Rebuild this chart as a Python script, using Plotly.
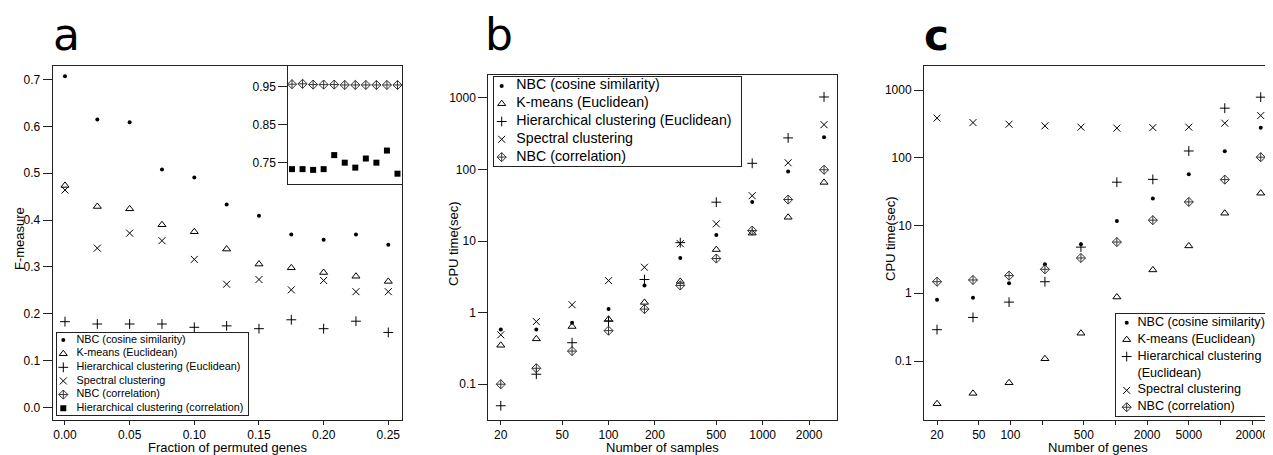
import plotly.graph_objects as go

W, H = 1273, 455
OFF = 8  # page body margin: figure origin sits 8px right/down of page origin
FONT = "Liberation Sans, Arial, Helvetica, sans-serif"

# ---------------- data ----------------
# panel a : F-measure vs fraction of permuted genes
frac_permuted = [0.0, 0.025, 0.05, 0.075, 0.1, 0.125, 0.15, 0.175, 0.2, 0.225, 0.25]
a_nbc_cos = [0.707, 0.615, 0.609, 0.508, 0.491, 0.433, 0.409, 0.369, 0.358, 0.369, 0.347]
a_kmeans = [0.474, 0.429, 0.424, 0.390, 0.375, 0.338, 0.306, 0.298, 0.288, 0.280, 0.269]
a_hier_euc = [0.183, 0.178, 0.178, 0.178, 0.171, 0.174, 0.168, 0.187, 0.168, 0.184, 0.160]
a_spectral = [0.464, 0.340, 0.372, 0.356, 0.316, 0.263, 0.273, 0.251, 0.271, 0.247, 0.247]
a_nbc_corr = [0.956, 0.957, 0.955, 0.955, 0.955, 0.954, 0.954, 0.954, 0.954, 0.954, 0.954]
a_hier_corr = [0.732, 0.732, 0.730, 0.732, 0.769, 0.749, 0.736, 0.760, 0.749, 0.781, 0.720]

# panel b : CPU time vs number of samples
n_samples = [20, 34, 58, 100, 171, 292, 500, 855, 1462, 2500]
b_nbc_cos = [0.58, 0.58, 0.72, 1.12, 2.4, 5.8, 12.2, 35, 94, 281]
b_kmeans = [0.35, 0.43, 0.64, 0.81, 1.39, 2.73, 7.6, 12.9, 21.5, 66]
b_hier_euc = [0.050, 0.138, 0.38, 0.76, 2.9, 9.5, 34.9, 122, 276, 1030]
b_spectral = [0.49, 0.75, 1.29, 2.8, 4.3, 9.2, 17.4, 43, 124, 423]
b_nbc_corr = [0.10, 0.167, 0.29, 0.56, 1.12, 2.4, 5.7, 14, 38, 99]

# panel c : CPU time vs number of genes
n_genes = [20, 44, 97, 213, 469, 1031, 2268, 4990, 10980, 24150]
c_nbc_cos = [0.80, 0.86, 1.41, 2.68, 5.3, 11.7, 25, 57, 125, 277]
c_kmeans = [0.0234, 0.0333, 0.0478, 0.108, 0.257, 0.88, 2.21, 5.0, 15.2, 30]
c_hier_euc = [0.29, 0.44, 0.74, 1.48, 4.8, 43.6, 48, 126, 540, 785]
c_spectral = [385, 331, 313, 296, 283, 274, 279, 283, 324, 420]
c_nbc_corr = [1.48, 1.57, 1.82, 2.26, 3.32, 5.7, 12.0, 22.3, 47.6, 102]

# tick labels
a_xticks = [0.0, 0.05, 0.10, 0.15, 0.20, 0.25]
a_xticktext = ["0.00", "0.05", "0.10", "0.15", "0.20", "0.25"]
a_yticks = [0.0, 0.1, 0.2, 0.3, 0.4, 0.5, 0.6, 0.7]
a_yticktext = ["0.0", "0.1", "0.2", "0.3", "0.4", "0.5", "0.6", "0.7"]
inset_yticks = [0.75, 0.85, 0.95]
inset_yticktext = ["0.75", "0.85", "0.95"]
b_xticks = [20, 50, 100, 200, 500, 1000, 2000]
b_xticktext = ["20", "50", "100", "200", "500", "1000", "2000"]
log_yticks = [0.1, 1, 10, 100, 1000]
log_yticktext = ["0.1", "1", "10", "100", "1000"]
c_xticks = [20, 50, 100, 200, 500, 1000, 2000, 5000, 10000, 20000]
c_xticktext = ["20", "50", "100", "", "500", "", "2000", "5000", "", "20000"]

# legend entries
legend_a = ["NBC (cosine similarity)", "K-means (Euclidean)",
            "Hierarchical clustering (Euclidean)", "Spectral clustering",
            "NBC (correlation)", "Hierarchical clustering (correlation)"]
legend_a_keys = ["nbc_cos", "kmeans", "hier_euc", "spectral", "nbc_corr", "hier_corr"]
legend_b = ["NBC (cosine similarity)", "K-means (Euclidean)",
            "Hierarchical clustering (Euclidean)", "Spectral clustering",
            "NBC (correlation)"]
legend_b_keys = ["nbc_cos", "kmeans", "hier_euc", "spectral", "nbc_corr"]
legend_c = ["NBC (cosine similarity)", "K-means (Euclidean)",
            "Hierarchical clustering\n(Euclidean)", "Spectral clustering",
            "NBC (correlation)"]
legend_c_keys = legend_b_keys

# axis titles
a_xtitle, a_ytitle = "Fraction of permuted genes", "F-measure"
b_xtitle, b_ytitle = "Number of samples", "CPU time(sec)"
c_xtitle, c_ytitle = "Number of genes", "CPU time(sec)"

# ---------------- styles ----------------
STY = {
    "nbc_cos": dict(symbol="circle", size=4, color="black", line=dict(width=0)),
    "kmeans": dict(symbol="triangle-up-open", size=7, color="black", line=dict(width=1, color="black")),
    "hier_euc": dict(symbol="cross-thin-open", size=7, color="black", line=dict(width=1, color="black")),
    "spectral": dict(symbol="x-thin-open", size=7, color="black", line=dict(width=1, color="black")),
    "nbc_corr": dict(symbol="diamond-cross-open", size=7, color="#333333", line=dict(width=1, color="#333333")),
    "hier_corr": dict(symbol="square", size=6, color="black", line=dict(width=0)),
}

# ---------------- geometry (page pixels) ----------------
PA = dict(l=52.7, r=402.0, t=66, b=420)
PB = dict(l=488.3, r=837.3, t=75, b=420)
PC = dict(l=924.0, r=1272.5, t=66, b=420)
INS = dict(l=288.3, r=402.0, t=66, b=184.3)
LA = dict(l=57.0, r=248.3, t=333.3, b=415.0, sym=6.3, txt=19.5, font=10.8)
LB = dict(l=494.3, r=740.7, t=77.0, b=166.0, sym=7.4, txt=22.0, font=14.2)
LC = dict(l=1115.7, r=1273.0, t=314.3, b=415.7, sym=11.0, txt=21.8, font=12.6)


def fx(px):
    return (px - OFF) / W


def fy(py):
    return 1 - (py - OFF) / H


def xdom(g):
    return [fx(g["l"]), fx(g["r"])]


def ydom(g):
    return [fy(g["b"]), fy(g["t"])]


fig = go.Figure()

AX = dict(showline=True, mirror=True, linecolor="#222222", linewidth=1,
          showgrid=False, zeroline=False, ticks="outside", tickcolor="#222222",
          tickfont=dict(family=FONT, size=12, color="black"), fixedrange=True)


def add_series(xs, series, xa, ya):
    for key, ys in series:
        fig.add_trace(go.Scatter(x=xs, y=ys, mode="markers", marker=STY[key],
                                 xaxis=xa, yaxis=ya, showlegend=False, hoverinfo="skip",
                                 cliponaxis=False))


# panel a main
add_series(frac_permuted, [("nbc_cos", a_nbc_cos), ("kmeans", a_kmeans),
                           ("hier_euc", a_hier_euc), ("spectral", a_spectral)], "x", "y")
# panel a inset
add_series(frac_permuted, [("nbc_corr", a_nbc_corr), ("hier_corr", a_hier_corr)], "x4", "y4")
# panel b
add_series(n_samples, [("nbc_cos", b_nbc_cos), ("kmeans", b_kmeans), ("hier_euc", b_hier_euc),
                       ("spectral", b_spectral), ("nbc_corr", b_nbc_corr)], "x2", "y2")
# panel c
add_series(n_genes, [("nbc_cos", c_nbc_cos), ("kmeans", c_kmeans), ("hier_euc", c_hier_euc),
                     ("spectral", c_spectral), ("nbc_corr", c_nbc_corr)], "x3", "y3")


# legends (drawn as small boxed subplots)
def add_legend(labels, keys, g, xa, ya):
    rows_text, rows_sym, sym_keys = [], [], []
    r = 0
    for lab, k in zip(labels, keys):
        parts = lab.split("\n")
        rows_sym.append(r + 0.5)
        sym_keys.append(k)
        for p in parts:
            rows_text.append((r + 0.5, p))
            r += 1
    nrows = r
    for yv, k in zip(rows_sym, sym_keys):
        fig.add_trace(go.Scatter(x=[g["sym"]], y=[yv], mode="markers", marker=STY[k],
                                 xaxis=xa, yaxis=ya, showlegend=False, hoverinfo="skip"))
    fig.add_trace(go.Scatter(x=[g["txt"]] * len(rows_text), y=[t[0] for t in rows_text],
                             text=[t[1] for t in rows_text], mode="text",
                             textposition="middle right", marker=dict(size=1),
                             textfont=dict(family=FONT, size=g["font"], color="black"),
                             xaxis=xa, yaxis=ya, showlegend=False, hoverinfo="skip",
                             cliponaxis=False))
    fig.add_shape(type="rect", xref="paper", yref="paper",
                  x0=fx(g["l"]), x1=fx(g["r"]), y0=fy(g["b"]), y1=fy(g["t"]),
                  fillcolor="#f0f0f0", line=dict(width=0), layer="below")
    return nrows


na = add_legend(legend_a, legend_a_keys, LA, "x5", "y5")
nb = add_legend(legend_b, legend_b_keys, LB, "x6", "y6")
nc = add_legend(legend_c, legend_c_keys, LC, "x7", "y7")

LEGAX = dict(showline=True, mirror=True, linecolor="#222222", linewidth=1, showgrid=False,
             zeroline=False, showticklabels=False, ticks="", fixedrange=True)

title_font = dict(family=FONT, size=13, color="black")

fig.update_layout(
    width=W, height=H, template="none",
    paper_bgcolor="white", plot_bgcolor="white",
    margin=dict(l=0, r=0, t=0, b=0), showlegend=False,
    xaxis=dict(AX, domain=xdom(PA), anchor="y", range=[-0.0095, 0.2606],
               tickvals=a_xticks, ticktext=a_xticktext, ticklen=4),
    yaxis=dict(AX, domain=ydom(PA), anchor="x", range=[-0.027, 0.729],
               tickvals=a_yticks, ticktext=a_yticktext, ticklen=9),
    xaxis2=dict(AX, domain=xdom(PB), anchor="y2", type="log", range=[1.220, 3.484],
                tickvals=b_xticks, ticktext=b_xticktext, ticklen=4),
    yaxis2=dict(AX, domain=ydom(PB), anchor="x2", type="log", range=[-1.50, 3.32],
                tickvals=log_yticks, ticktext=log_yticktext, ticklen=9),
    xaxis3=dict(AX, domain=xdom(PC), anchor="y3", type="log", range=[1.177, 4.495],
                tickvals=c_xticks, ticktext=c_xticktext, ticklen=4),
    yaxis3=dict(AX, domain=ydom(PC), anchor="x3", type="log", range=[-1.871, 3.355],
                tickvals=log_yticks, ticktext=log_yticktext, ticklen=9),
    xaxis4=dict(AX, domain=xdom(INS), anchor="y4", range=[-0.0088, 0.2607],
                showticklabels=False, ticks=""),
    yaxis4=dict(AX, domain=ydom(INS), anchor="x4", range=[0.692, 1.004],
                tickvals=inset_yticks, ticktext=inset_yticktext, ticklen=9),
    xaxis5=dict(LEGAX, domain=xdom(LA), anchor="y5", range=[0, LA["r"] - LA["l"]]),
    yaxis5=dict(LEGAX, domain=ydom(LA), anchor="x5", range=[na, 0]),
    xaxis6=dict(LEGAX, domain=xdom(LB), anchor="y6", range=[0, LB["r"] - LB["l"]]),
    yaxis6=dict(LEGAX, domain=ydom(LB), anchor="x6", range=[nb, 0]),
    xaxis7=dict(LEGAX, domain=xdom(LC), anchor="y7", range=[0, LC["r"] - LC["l"]]),
    yaxis7=dict(LEGAX, domain=ydom(LC), anchor="x7", range=[nc, 0]),
)

# axis titles
for txt, g in [(a_xtitle, PA), (b_xtitle, PB), (c_xtitle, PC)]:
    fig.add_annotation(text=txt, xref="paper", yref="paper", x=fx((g["l"] + g["r"]) / 2),
                       y=fy(447.8), showarrow=False, xanchor="center", yanchor="middle",
                       font=title_font)
for txt, xc, g in [(a_ytitle, 19.0, PA), (b_ytitle, 453.5, PB), (c_ytitle, 890.0, PC)]:
    fig.add_annotation(text=txt, xref="paper", yref="paper", x=fx(xc),
                       y=fy((g["t"] + g["b"]) / 2 - 4), textangle=-90, showarrow=False,
                       xanchor="center", yanchor="middle", font=title_font)

# panel letters
letters = [("a", 50.5, "normal", 44, 34.8), ("b", 482.5, "normal", 44, 34.8),
           ("c", 922.0, "bold", 42, 35.5)]
for t, xl, wgt, sz, yc in letters:
    fig.add_annotation(text=t, xref="paper", yref="paper", x=fx(xl), y=fy(yc),
                       xanchor="left", yanchor="middle", showarrow=False,
                       font=dict(family="DejaVu Sans, sans-serif", size=sz,
                                 color="black", weight=wgt))

fig.write_html("out.html")
